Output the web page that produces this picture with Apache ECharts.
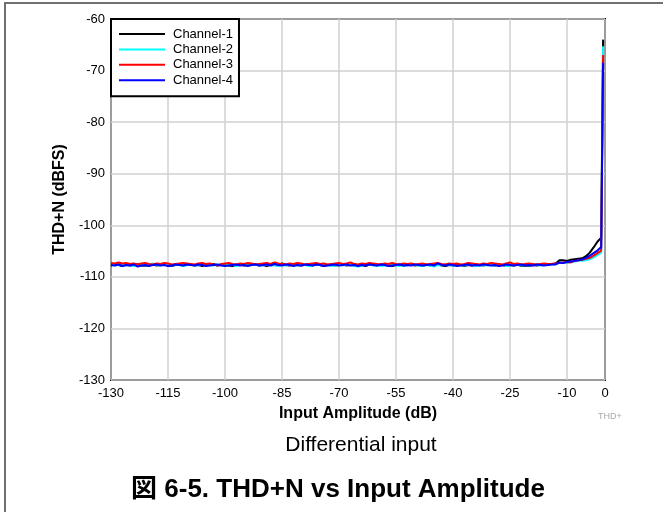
<!DOCTYPE html>
<html>
<head>
<meta charset="utf-8">
<script src="https://cdn.jsdelivr.net/npm/echarts@6/dist/echarts.min.js"></script>
<style>html,body{margin:0;padding:0;background:#fff;}#c{width:663px;height:512px;}</style>
</head>
<body>
<div id="c"></div>
<script>
const xValues = [-130,-129,-128,-127,-126,-125,-124,-123,-122,-121,
-120,-119,-118,-117,-116,-115,-114,-113,-112,-111,
-110,-109,-108,-107,-106,-105,-104,-103,-102,-101,
-100,-99,-98,-97,-96,-95,-94,-93,-92,-91,
-90,-89,-88,-87,-86,-85,-84,-83,-82,-81,
-80,-79,-78,-77,-76,-75,-74,-73,-72,-71,
-70,-69,-68,-67,-66,-65,-64,-63,-62,-61,
-60,-59,-58,-57,-56,-55,-54,-53,-52,-51,
-50,-49,-48,-47,-46,-45,-44,-43,-42,-41,
-40,-39,-38,-37,-36,-35,-34,-33,-32,-31,
-30,-29,-28,-27,-26,-25,-24,-23,-22,-21,
-20,-19,-18,-17,-16,
-15,-14,-13,-12,-11,-10,-9,-8,-7,-6,-5,-4,-3,-2,-1,-0.5];

const channel1 = [-107.8,-107.6,-107.7,-107.9,-107.6,-107.8,-107.7,-107.5,-107.8,-107.9,
-107.7,-107.6,-107.8,-107.7,-107.5,-107.8,-107.9,-107.7,-107.6,-107.8,
-107.7,-107.6,-107.8,-107.7,-107.9,-107.6,-107.7,-107.5,-107.8,-107.7,
-107.6,-107.8,-107.9,-107.7,-107.6,-107.8,-107.7,-107.6,-107.5,-107.8,
-107.7,-107.9,-107.6,-107.7,-107.8,-107.4,-107.7,-107.8,-107.6,-107.7,
-107.8,-107.7,-107.5,-107.8,-107.6,-107.7,-107.9,-107.7,-107.6,-107.8,
-107.7,-107.6,-107.8,-107.7,-107.5,-107.8,-107.7,-107.9,-107.6,-107.7,
-107.8,-107.6,-107.7,-107.8,-107.9,-107.7,-107.6,-107.8,-107.7,-107.6,
-107.8,-107.7,-107.9,-107.6,-107.8,-107.7,-107.6,-107.8,-107.9,-107.7,
-107.8,-107.6,-107.7,-107.9,-107.7,-107.8,-107.6,-107.7,-107.8,-107.6,
-107.7,-107.8,-107.6,-107.7,-107.9,-107.7,-107.8,-107.6,-107.9,-107.8,
-107.9,-107.7,-107.8,-107.7,-107.6,
-107.6,-107.5,-107.4,-106.8,-106.8,-106.9,-106.7,-106.6,-106.5,-106.4,-106.0,-105.3,-104.3,-103.2,-102.4,-64.0];

const channel2 = [-107.6,-107.8,-107.7,-107.6,-107.8,-107.7,-107.9,-107.6,-107.7,-107.8,
-107.6,-107.4,-107.7,-107.8,-107.6,-107.7,-107.8,-107.6,-107.7,-107.9,
-107.7,-107.6,-107.8,-107.7,-107.6,-107.8,-107.7,-107.8,-107.6,-107.7,
-107.8,-107.6,-107.7,-107.9,-107.7,-107.6,-107.8,-107.7,-107.6,-107.8,
-107.7,-107.6,-107.8,-107.7,-107.9,-107.7,-107.8,-107.6,-107.7,-107.8,
-107.6,-107.7,-107.9,-107.8,-107.7,-107.6,-107.8,-107.7,-107.9,-107.8,
-107.7,-107.8,-107.6,-107.7,-107.9,-108.0,-107.8,-107.7,-107.6,-107.8,
-107.7,-107.9,-107.8,-107.7,-107.6,-107.8,-107.9,-107.7,-107.8,-107.6,
-107.7,-107.8,-107.9,-107.7,-107.8,-108.0,-107.7,-107.8,-107.6,-107.7,
-107.8,-107.9,-107.7,-107.8,-107.6,-107.7,-107.9,-107.8,-107.7,-107.8,
-107.7,-107.8,-107.6,-107.7,-107.9,-107.8,-107.7,-107.6,-107.8,-107.7,
-107.8,-107.7,-107.6,-107.8,-107.7,
-107.7,-107.6,-107.5,-107.3,-107.2,-107.3,-107.1,-107.0,-106.9,-106.9,-106.8,-106.6,-106.2,-105.8,-105.3,-65.3];

const channel3 = [-107.3,-107.4,-107.2,-107.4,-107.3,-107.5,-107.4,-107.6,-107.4,-107.3,
-107.5,-107.6,-107.4,-107.5,-107.3,-107.4,-107.6,-107.5,-107.4,-107.3,
-107.4,-107.5,-107.6,-107.4,-107.3,-107.5,-107.4,-107.6,-107.8,-107.5,
-107.4,-107.3,-107.5,-107.6,-107.4,-107.5,-107.3,-107.4,-107.6,-107.5,
-107.4,-107.3,-107.5,-107.2,-107.4,-107.5,-107.6,-107.4,-107.5,-107.3,
-107.4,-107.6,-107.5,-107.4,-107.3,-107.5,-107.4,-107.6,-107.5,-107.4,
-107.3,-107.5,-107.4,-107.2,-107.5,-107.6,-107.4,-107.5,-107.3,-107.4,
-107.5,-107.6,-107.4,-107.5,-107.3,-107.5,-107.6,-107.4,-107.5,-107.4,
-107.6,-107.5,-107.4,-107.6,-107.5,-107.4,-107.3,-107.5,-107.6,-107.4,
-107.5,-107.4,-107.6,-107.5,-107.3,-107.4,-107.5,-107.6,-107.4,-107.5,
-107.3,-107.4,-107.5,-107.6,-107.4,-107.2,-107.5,-107.4,-107.6,-107.5,
-107.4,-107.5,-107.6,-107.5,-107.4,
-107.5,-107.5,-107.4,-107.3,-107.2,-107.1,-107.2,-106.9,-106.8,-106.7,-106.5,-106.3,-105.9,-105.4,-104.9,-67.0];

const channel4 = [-107.7,-107.8,-107.6,-107.9,-107.7,-107.8,-107.6,-108.0,-107.8,-107.7,
-107.9,-107.7,-107.6,-107.8,-107.7,-107.9,-107.8,-107.6,-107.7,-107.8,
-107.6,-107.7,-107.8,-107.6,-107.7,-107.9,-107.8,-107.7,-107.6,-107.8,
-107.9,-107.8,-107.7,-107.6,-107.8,-107.7,-107.9,-107.7,-107.6,-107.8,
-107.7,-107.6,-107.8,-107.5,-107.7,-107.8,-107.6,-107.7,-107.9,-107.7,
-107.8,-107.6,-107.7,-107.8,-107.6,-107.7,-107.9,-107.8,-107.7,-107.6,
-107.8,-107.7,-107.6,-107.8,-107.7,-107.9,-107.7,-107.8,-107.6,-107.7,
-107.8,-107.6,-107.7,-107.9,-107.8,-107.7,-107.6,-107.8,-107.7,-107.8,
-107.6,-107.7,-107.8,-107.7,-107.6,-107.8,-107.4,-107.7,-107.8,-107.6,
-107.7,-107.9,-107.8,-107.7,-107.6,-107.8,-107.7,-107.8,-107.6,-107.7,
-107.8,-107.7,-107.9,-107.8,-107.6,-107.7,-107.8,-107.7,-107.6,-107.8,
-107.7,-107.8,-107.6,-107.7,-107.8,
-107.7,-107.6,-107.6,-107.2,-107.3,-107.1,-107.0,-106.9,-106.8,-106.6,-106.3,-105.9,-105.4,-104.9,-104.2,-68.5];

const seriesNames = ['Channel-1','Channel-2','Channel-3','Channel-4'];
const seriesColors = ['#000000','#00ffff','#ff0000','#0000ff'];
const xTicks = [-130,-115,-100,-85,-70,-55,-40,-25,-10,0];
const yTicks = [-130,-120,-110,-100,-90,-80,-70,-60];

const FONT = "'Liberation Sans', Arial, 'Noto Sans CJK JP', sans-serif";
const chart = echarts.init(document.getElementById('c'), null, {renderer: 'canvas'});
const allData = [channel1, channel2, channel3, channel4];

const option = {
  animation: false,
  backgroundColor: '#fff',
  textStyle: {fontFamily: FONT},
  grid: {left: 111, right: 58, top: 19, bottom: 132, show: true, borderColor: '#000', borderWidth: 2, backgroundColor: 'transparent'},
  legend: {
    orient: 'vertical', left: 111, top: 19,
    padding: [8, 6, 9, 7],
    itemWidth: 46, itemHeight: 14, itemGap: 1.4,
    itemStyle: {opacity: 0},
    lineStyle: {width: 2},
    backgroundColor: '#fff', borderColor: '#000', borderWidth: 2, borderRadius: 0,
    textStyle: {fontFamily: FONT, fontSize: 13, color: '#000', lineHeight: 14, padding: [0, 0, 0, 3]},
    data: seriesNames
  },
  xAxis: {
    type: 'value', min: -130, max: 0,
    name: 'Input Amplitude (dB)', nameLocation: 'middle', nameGap: 26,
    nameTextStyle: {fontFamily: FONT, fontSize: 16, fontWeight: 'bold', color: '#000'},
    axisLine: {show: false},
    axisTick: {show: false, customValues: xTicks},
    axisLabel: {customValues: xTicks, fontFamily: FONT, fontSize: 13, color: '#000', margin: 7},
    splitLine: {show: true, lineStyle: {color: '#d0d0d0', width: 1.5}}
  },
  yAxis: {
    type: 'value', min: -130, max: -60, interval: 10,
    name: 'THD+N (dBFS)', nameLocation: 'middle', nameGap: 43,
    nameTextStyle: {fontFamily: FONT, fontSize: 16, fontWeight: 'bold', color: '#000'},
    axisLine: {show: false},
    axisTick: {show: false},
    axisLabel: {fontFamily: FONT, fontSize: 13, color: '#000', margin: 6},
    splitLine: {show: true, lineStyle: {color: '#d0d0d0', width: 1.5}}
  },
  series: seriesNames.map((n, i) => ({
    name: n, type: 'line', symbol: 'none', showSymbol: false,
    color: seriesColors[i],
    lineStyle: {color: seriesColors[i], width: 2},
    data: xValues.map((x, k) => [x, allData[i][k]])
  })),
  graphic: [
    {type: 'polyline', shape: {points: [[5, 512], [5, 3], [663, 3]]}, style: {stroke: '#707070', lineWidth: 2, fill: null}, silent: true},
    {type: 'text', left: 598, top: 412, style: {text: 'THD+', fontFamily: FONT, fontSize: 9, fill: '#aaaaaa'}},
    {type: 'text', x: 361, y: 445, style: {text: 'Differential input', fontFamily: FONT, fontSize: 21, fill: '#000', textAlign: 'center', textVerticalAlign: 'middle'}},
    {type: 'text', x: 338, y: 490, style: {text: '図 6-5. THD+N vs Input Amplitude', fontFamily: FONT, fontSize: 26, fontWeight: 'bold', fill: '#000', textAlign: 'center', textVerticalAlign: 'middle'}}
  ]
};
chart.setOption(option);
</script>
</body>
</html>
